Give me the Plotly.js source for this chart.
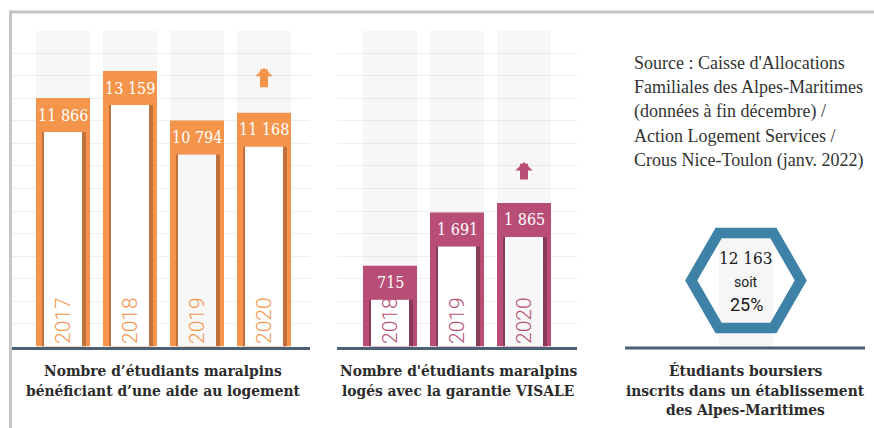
<!DOCTYPE html>
<html><head><meta charset="utf-8">
<script src="https://cdn.plot.ly/plotly-3.0.1.min.js"></script>
<style>html,body{margin:0;padding:0;background:#fff;}#chart{width:874px;height:428px;}</style>
</head><body><div id="chart"></div>
<script>
// ---- data ----
const yearsAide = ['2017', '2018', '2019', '2020'];
const valuesAide = [11866, 13159, 10794, 11168];
const yearsVisale = ['2018', '2019', '2020'];
const valuesVisale = [715, 1691, 1865];
const boursiersCount = 12163;
const boursiersPercent = 25;
const titleAide = ['Nombre d’étudiants maralpins', 'bénéficiant d’une aide au logement'];
const titleVisale = ["Nombre d'étudiants maralpins", 'logés avec la garantie VISALE'];
const titleBoursiers = ['Étudiants boursiers', 'inscrits dans un établissement', 'des Alpes-Maritimes'];
const sourceLines = ["Source : Caisse d'Allocations", 'Familiales des Alpes-Maritimes',
  '(données à fin décembre) /', 'Action Logement Services /', 'Crous Nice-Toulon (janv. 2022)'];

// ---- style ----
const W = 874, H = 428;
const SLAB = 'Roboto Slab, DejaVu Serif Condensed, DejaVu Serif, serif';
const px = p => p / W;
const py = p => 1 - p / H;
const plotTop = 30.6, plotBottom = 346.5;
const step = 67; // px between columns
const fmt = v => String(v).replace(/\B(?=(\d{3})+(?!\d))/g, ' ');

const panels = [
  {cats: yearsAide, vals: valuesAide, xa: 'x', ya: 'y', dom: [12, 310], first: 63, yMin: 0, yMax: 15090,
   color: '#f4954b', shade: '#c0713c', inner: ['#ffffff', '#ffffff', '#f7f7f7', '#ffffff'], arrowShift: 45, arrowLen: 20},
  {cats: yearsVisale, vals: valuesVisale, xa: 'x2', ya: 'y2', dom: [337, 577], first: 390, yMin: -765, yMax: 5022,
   color: '#b84e75', shade: '#8a3a59', inner: ['#ffffff', '#ffffff', '#f7f7f7'], arrowShift: 41, arrowLen: 18}
];

const traces = [];
const annotations = [];
const layout = {
  width: W, height: H, margin: {l: 0, r: 0, t: 0, b: 0},
  paper_bgcolor: '#ffffff', plot_bgcolor: 'rgba(0,0,0,0)',
  showlegend: false, barmode: 'overlay', hovermode: false,
  annotations: annotations, shapes: []
};

panels.forEach((p, k) => {
  const upp = (p.yMax - p.yMin) / (plotBottom - plotTop);
  const band = 34 * upp;
  const idx = p.cats.map((c, i) => i);
  const common = {type: 'bar', x: idx, xaxis: p.xa, yaxis: p.ya, base: p.yMin, hoverinfo: 'skip',
    text: p.cats, textposition: 'none'};
  traces.push(Object.assign({}, common, {y: p.cats.map(() => p.yMax - p.yMin), width: 54 / step,
    marker: {color: 'rgba(0,0,0,0.032)', line: {width: 0}}}));
  traces.push(Object.assign({}, common, {y: p.vals.map(v => v - p.yMin), width: 54 / step,
    marker: {color: p.color, line: {width: 0}}}));
  traces.push(Object.assign({}, common, {y: p.vals.map(v => v - band - p.yMin), width: 44 / step, offset: -21 / step,
    marker: {color: p.shade, line: {width: 0}}}));
  traces.push(Object.assign({}, common, {y: p.vals.map(v => v - band - p.yMin), width: 38 / step, offset: -19 / step,
    marker: {color: p.inner, line: {width: 0}}}));

  const sfx = k === 0 ? '' : '2';
  layout['xaxis' + sfx] = {domain: [px(p.dom[0]), px(p.dom[1])], anchor: 'y' + sfx, type: 'linear',
    range: [(p.dom[0] - p.first) / step, (p.dom[1] - p.first) / step],
    showline: true, linecolor: '#4a6075', linewidth: 3, showgrid: false, zeroline: false,
    showticklabels: false, ticks: '', fixedrange: true};
  layout['yaxis' + sfx] = {domain: [py(plotBottom), py(plotTop)], anchor: 'x' + sfx, type: 'linear',
    range: [p.yMin, p.yMax], tick0: p.yMin, dtick: (p.yMax - p.yMin) / 14,
    showgrid: true, gridcolor: '#efefef', gridwidth: 1, zeroline: false, showline: false,
    showticklabels: false, ticks: '', fixedrange: true};

  p.cats.forEach((c, i) => {
    annotations.push({x: i, y: p.vals[i], xref: p.xa, yref: p.ya, text: fmt(p.vals[i]), showarrow: false,
      xanchor: 'center', yanchor: 'middle', yshift: -17, font: {family: SLAB, size: 16, color: '#ffffff', weight: 300}});
    annotations.push({x: i, y: p.yMin, xref: p.xa, yref: p.ya, text: c, showarrow: false, textangle: -90,
      yanchor: 'bottom', xanchor: 'center', yshift: 0, font: {family: 'Roboto, sans-serif', size: 21, color: p.color, weight: 300}});
  });
  const last = p.cats.length - 1;
  annotations.push({x: last, y: p.vals[last], xref: p.xa, yref: p.ya, text: '', showarrow: true, borderpad: 0,
    font: {size: 1}, ax: 0, ay: p.arrowLen, yshift: p.arrowShift, arrowhead: 1, arrowwidth: 8, arrowsize: 0.36,
    arrowcolor: p.color, standoff: 0});
});

// titles under panels
const titleFont = {family: SLAB, size: 15.4, color: '#2b2b2b', weight: 'bold'};
[[titleAide, 163, 371], [titleVisale, 458, 371], [titleBoursiers, 745, 371]].forEach(([lines, cx, y0]) => {
  lines.forEach((t, i) => annotations.push({xref: 'paper', yref: 'paper', x: px(cx), y: py(y0 + i * 19.5), text: t,
    showarrow: false, xanchor: 'center', yanchor: 'middle', font: titleFont}));
});

// source text
sourceLines.forEach((t, i) => annotations.push({xref: 'paper', yref: 'paper', x: px(632), y: py(63 + i * 24.3), text: t,
  showarrow: false, xanchor: 'left', yanchor: 'middle', font: {family: 'Liberation Serif, serif', size: 18, color: '#333333'}}));

// hexagon figure
const hc = [746, 280.5], hr = 54.8;
annotations.push({xref: 'paper', yref: 'paper', x: px(hc[0]), y: py(258), text: fmt(boursiersCount), showarrow: false,
  xanchor: 'center', yanchor: 'middle', font: {family: SLAB, size: 17, color: '#1a1a1a', weight: 300}});
annotations.push({xref: 'paper', yref: 'paper', x: px(hc[0]), y: py(282), text: 'soit', showarrow: false,
  xanchor: 'center', yanchor: 'middle', font: {family: 'Roboto, sans-serif', size: 14, color: '#1a1a1a'}});
annotations.push({xref: 'paper', yref: 'paper', x: px(hc[0]), y: py(304), text: boursiersPercent + '%', showarrow: false,
  xanchor: 'center', yanchor: 'middle', font: {family: 'Roboto, sans-serif', size: 18, color: '#1a1a1a'}});

let hexPath = '';
for (let i = 0; i < 6; i++) {
  const a = i * Math.PI / 3;
  hexPath += (i ? 'L' : 'M') + px(hc[0] + hr * Math.cos(a)).toFixed(5) + ',' + py(hc[1] + hr * Math.sin(a)).toFixed(5);
}
hexPath += 'Z';

layout.shapes = [
  {type: 'rect', xref: 'paper', yref: 'paper', x0: px(719), x1: px(773), y0: py(plotBottom), y1: py(236),
   fillcolor: '#f6f6f6', line: {width: 0}, layer: 'below'},
  {type: 'path', xref: 'paper', yref: 'paper', path: hexPath, line: {color: '#3f82a7', width: 10.5}},
  {type: 'line', xref: 'paper', yref: 'paper', x0: px(625), x1: px(865), y0: py(348), y1: py(348),
   line: {color: '#4a6075', width: 3}},
  {type: 'line', xref: 'paper', yref: 'paper', x0: px(9), x1: 1, y0: py(12), y1: py(12), line: {color: '#c5c5c9', width: 3}},
  {type: 'line', xref: 'paper', yref: 'paper', x0: px(10.5), x1: px(10.5), y0: py(10.5), y1: 0, line: {color: '#c5c5c9', width: 3}}
];

Plotly.newPlot('chart', traces, layout, {displayModeBar: false, staticPlot: true});
</script></body></html>
